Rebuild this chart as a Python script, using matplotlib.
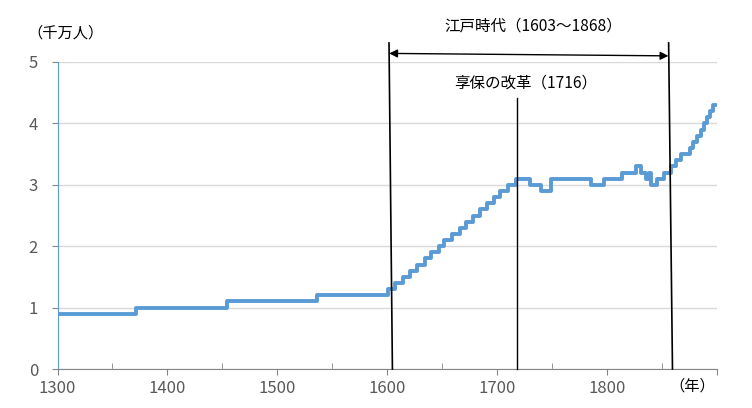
import numpy as np
import matplotlib.pyplot as plt
from matplotlib.ticker import MultipleLocator, FuncFormatter

plt.rcParams['font.family'] = ['Noto Sans CJK JP', 'DejaVu Sans']

# population steps (year where the value starts, value in 10 million people)
years = [1300, 1371, 1454, 1536, 1601, 1607, 1614, 1621, 1627, 1634, 1640, 1647,
         1652, 1659, 1666, 1672, 1678, 1684, 1691, 1697, 1703, 1710, 1717, 1730,
         1740, 1749, 1785, 1797, 1814, 1826, 1831, 1835, 1838, 1840, 1845, 1848,
         1852, 1855, 1858, 1863, 1867, 1870, 1875, 1878, 1882, 1885, 1888, 1891,
         1894, 1896, 1899]
pop = [0.9, 1.0, 1.1, 1.2, 1.3, 1.4, 1.5, 1.6, 1.7, 1.8, 1.9, 2.0,
       2.1, 2.2, 2.3, 2.4, 2.5, 2.6, 2.7, 2.8, 2.9, 3.0, 3.1, 3.0,
       2.9, 3.1, 3.0, 3.1, 3.2, 3.3, 3.2, 3.1, 3.2, 3.0, 3.1, 3.1,
       3.2, 3.2, 3.3, 3.4, 3.5, 3.5, 3.6, 3.7, 3.8, 3.9, 4.0, 4.1,
       4.2, 4.3, 4.3]

edo_start, edo_end = 1603, 1868
kyoho = 1716

W, H = 752, 408
fig = plt.figure(figsize=(W / 100, H / 100), dpi=100)
ax = fig.add_axes([57.5 / W, 1 - 369 / H, (717 - 57.5) / W, (369 - 62) / H])

ax.plot(years, pop, drawstyle='steps-post', color='#5b9bd5', lw=2.8,
        solid_joinstyle='round', solid_capstyle='round', zorder=3)

ax.set_xlim(1300, 1900)
ax.set_ylim(0, 5)
ax.xaxis.set_major_locator(MultipleLocator(100))
ax.xaxis.set_minor_locator(MultipleLocator(50))
ax.xaxis.set_major_formatter(FuncFormatter(lambda v, p: '' if v >= 1900 else f'{v:.0f}'))
ax.yaxis.set_major_locator(MultipleLocator(1))
ax.grid(axis='y', color='#d9d9d9', lw=1)
ax.set_axisbelow(True)

for s in ['top', 'right']:
    ax.spines[s].set_visible(False)
ax.spines['bottom'].set_color('#868686')
ax.spines['left'].set_color('#5b9bd5')

ax.tick_params(axis='x', which='major', direction='out', length=4, color='#868686',
               labelsize=12, labelcolor='#595959', pad=4)
ax.tick_params(axis='x', which='minor', direction='in', length=4, color='#868686')
ax.tick_params(axis='y', direction='out', length=4, color='#868686',
               labelsize=12, labelcolor='#595959', pad=10)

# Edo period bracket (lines are slightly slanted in the original)
ax.plot([edo_start - 1.4, edo_start + 1.7], [5.31, 0], color='black', lw=1.2,
        clip_on=False, zorder=4)
ax.plot([edo_end - 12, edo_end - 8.5], [5.31, 0], color='black', lw=1.2,
        clip_on=False, zorder=4)
ax.annotate('', xy=(edo_start - 1.2, 5.14), xytext=(edo_end - 12.2, 5.10),
            arrowprops=dict(arrowstyle='<|-|>', color='black', lw=1,
                            mutation_scale=12, shrinkA=0, shrinkB=0),
            annotation_clip=False)
ax.plot([kyoho + 1.7, kyoho + 1.7], [4.41, 0], color='black', lw=1,
        clip_on=False, zorder=4)

fig.text(533 / W, 1 - 26 / H, '江戸時代（1603～1868）', ha='center', va='center',
         fontsize=11.2, color='black')
fig.text(526 / W, 1 - 83 / H, '享保の改革（1716）', ha='center', va='center',
         fontsize=11.2, color='black')
fig.text(66 / W, 1 - 33 / H, '（千万人）', ha='center', va='center',
         fontsize=11, color='black')
fig.text(692 / W, 1 - 386 / H, '（年）', ha='center', va='center',
         fontsize=11, color='black')

fig.savefig('out.png', dpi=100)
